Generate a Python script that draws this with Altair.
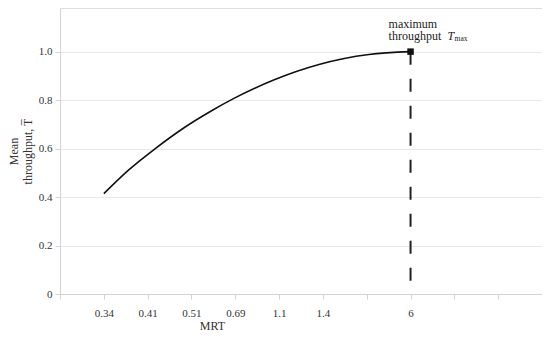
import json
import altair as alt
import pandas as pd

# Tick positions (evenly spaced slots) and their MRT labels
tick_pos = list(range(12))
tick_labels = ["", "0.34", "0.41", "0.51", "0.69", "1.1", "1.4", "", "6", "", "", ""]

# Curve, x in tick-slot units, mean throughput values
curve_x = [1.0, 1.55, 2.16, 2.84, 3.45, 3.98, 4.89, 5.91, 7.05, 8.0]
curve_t = [0.414, 0.509, 0.598, 0.687, 0.755, 0.808, 0.884, 0.947, 0.988, 1.0]

# Maximum throughput point
max_x = [8.0]
max_t = [1.0]
max_base = [0.0]

y_ticks = [0, 0.2, 0.4, 0.6, 0.8, 1.0]
annotation_lines = ["maximum", "throughput"]
y_title_lines = ["Mean" + "\u00a0" * 9, "throughput, T\u0305"]

SERIF = "Liberation Serif"

curve_df = pd.DataFrame({"idx": curve_x, "T": curve_t})
max_df = pd.DataFrame({"idx": max_x, "T": max_t, "T0": max_base})

label_expr = json.dumps(tick_labels) + "[datum.value]"

x_enc = alt.X(
    "idx:Q",
    scale=alt.Scale(domain=[0, 11], nice=False, zero=False),
    axis=alt.Axis(
        values=tick_pos,
        labelExpr=label_expr,
        title="MRT",
        grid=False,
        tickSize=5,
        labelPadding=8,
        titleX=152,
        titleY=26,
        titleBaseline="top",
    ),
)
y_enc = alt.Y(
    "T:Q",
    scale=alt.Scale(domain=[0, 1.18], nice=False),
    axis=alt.Axis(
        values=y_ticks,
        labelExpr="datum.value == 0 ? '0' : format(datum.value, '.1f')",
        title=y_title_lines,
        grid=True,
        tickSize=5,
        labelPadding=3,
        titleX=-40,
        titleLineHeight=14,
    ),
)

curve = alt.Chart(curve_df).mark_line(
    color="#111111", strokeWidth=1.6, interpolate="monotone"
).encode(x=x_enc, y=y_enc)

rule = alt.Chart(max_df).mark_rule(
    color="#222222", strokeWidth=2, strokeDash=[13, 14]
).encode(x="idx:Q", y="T:Q", y2="T0:Q")

square = alt.Chart(max_df).mark_square(
    size=42, color="#111111", opacity=1
).encode(x="idx:Q", y="T:Q")

ann = alt.Chart(max_df).mark_text(
    text=annotation_lines, align="left", baseline="alphabetic",
    dx=-22, dy=-24, lineHeight=12.5, font=SERIF, fontSize=12, color="#222222"
).encode(x="idx:Q", y="T:Q")

ann_t = alt.Chart(max_df).mark_text(
    text="T", align="left", baseline="alphabetic", dx=37, dy=-11.5,
    font=SERIF, fontSize=12, fontStyle="italic", color="#222222"
).encode(x="idx:Q", y="T:Q")

ann_sub = alt.Chart(max_df).mark_text(
    text="max", align="left", baseline="alphabetic", dx=44, dy=-11,
    font=SERIF, fontSize=7.5, color="#222222"
).encode(x="idx:Q", y="T:Q")

chart = (
    alt.layer(curve, rule, square, ann, ann_t, ann_sub)
    .properties(
        width=482,
        height=286,
        autosize=alt.AutoSizeParams(type="none"),
        padding={"left": 52, "top": 0, "right": 0, "bottom": 39},
    )
    .configure_view(stroke="#dddddd", strokeWidth=1)
    .configure_axis(
        domainColor="#d4d4d4",
        tickColor="#d4d4d4",
        gridColor="#e8e8e8",
        labelFont=SERIF,
        labelFontSize=11,
        labelColor="#333333",
        titleFont=SERIF,
        titleFontSize=12,
        titleFontWeight="normal",
        titleColor="#333333",
    )
)

chart.save("out.html", embed_options={"renderer": "svg", "actions": False})
